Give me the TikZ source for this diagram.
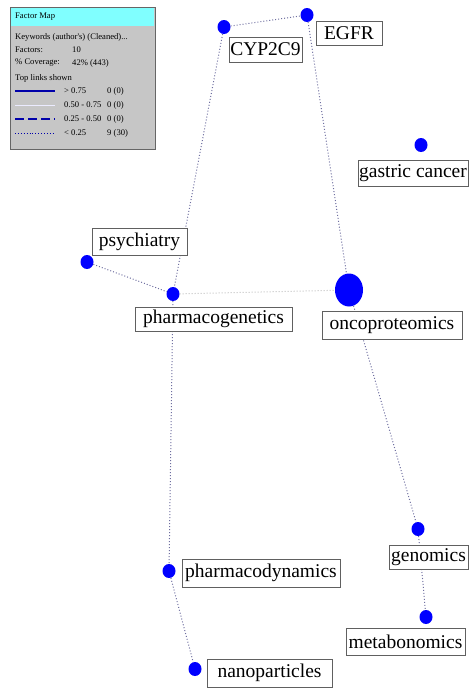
\documentclass[tikz,border=0pt]{standalone}
\usepackage{fontspec}
\setmainfont{Liberation Serif}
\newfontfamily\lblfont{Liberation Serif}
\usetikzlibrary{shapes.geometric}
\definecolor{dotblue}{RGB}{0,0,255}
\definecolor{linkcol}{RGB}{110,110,160}
\definecolor{legblue}{RGB}{0,0,170}
\definecolor{legcyan}{RGB}{128,255,255}
\begin{document}
\begin{tikzpicture}[x=1pt,y=-1pt,
  dot/.style={draw=none,fill=dotblue,ellipse,minimum width=13pt,minimum height=14pt,inner sep=0pt},
  lbl/.style={draw=gray!75!black,line width=0.9pt,fill=white,inner sep=0pt,font=\lblfont\fontsize{19.5}{19.5}\selectfont},
  link/.style={draw=linkcol,line width=1pt,dotted},
  leg/.style={anchor=west,inner sep=0pt,font=\lblfont\fontsize{8.6}{8.6}\selectfont}]
\useasboundingbox (0,0) rectangle (472,688);
\node[dot] (dcyp) at (224,27) {};
\node[dot] (degfr) at (307,15) {};
\node[dot] (dgas) at (421,145) {};
\node[dot] (dpsy) at (87,262) {};
\node[dot] (dpg) at (173,294) {};
\node[dot,minimum width=28pt,minimum height=33pt] (donc) at (349,290) {};
\node[dot] (dgen) at (418,529) {};
\node[dot] (dmet) at (426,617) {};
\node[dot] (dpd) at (169,571) {};
\node[dot] (dnano) at (195,669) {};
\draw[link] (dcyp) -- (degfr);
\draw[link] (dcyp) -- (dpg);
\draw[link] (degfr) -- (donc);
\draw[link] (dpsy) -- (dpg);
\draw[link,draw=gray!50] (dpg) -- (donc);
\draw[link] (dpg) -- (dpd);
\draw[link] (dpd) -- (dnano);
\draw[link] (donc) -- (dgen);
\draw[link] (dgen) -- (dmet);
% labels
\node[lbl,minimum width=73pt,minimum height=25pt] (lcyp) at (265.5,49.5) {CYP2C9};
\node[lbl,minimum width=66pt,minimum height=24pt] (legfr) at (349,33) {EGFR};
\node[lbl,minimum width=110pt,minimum height=26pt] (lgas) at (413,173) {gastric cancer};
\node[lbl,minimum width=95pt,minimum height=27pt] (lpsy) at (139.5,241.5) {psychiatry};
\node[lbl,minimum width=157pt,minimum height=24pt] (lpg) at (213.5,319) {pharmacogenetics};
\node[lbl,minimum width=140pt,minimum height=28pt] (lonc) at (392,325) {oncoproteomics};
\node[lbl,minimum width=79pt,minimum height=24pt] (lgen) at (428.5,557) {genomics};
\node[lbl,minimum width=119pt,minimum height=27pt] (lmet) at (405.5,641.5) {metabonomics};
\node[lbl,minimum width=158pt,minimum height=28pt] (lpd) at (261,573) {pharmacodynamics};
\node[lbl,minimum width=125pt,minimum height=28pt] (lnano) at (269.5,673) {nanoparticles};
% legend
\node[draw=gray!80!black,line width=0.8pt,fill=gray!45,minimum width=145pt,minimum height=142pt,inner sep=0pt,anchor=north west] (legbox) at (10,7) {};
\node[fill=legcyan,minimum width=143pt,minimum height=18pt,inner sep=0pt,anchor=north west] (leghead) at (11,8) {};
\node[leg] (lt1) at (15,17) {Factor Map};
\node[leg] (lt2) at (15,37) {Keywords (author's) (Cleaned)...};
\node[leg] (lt3) at (15,50) {Factors:};
\node[leg] (lv3) at (72,50) {10};
\node[leg] (lt4) at (15,63) {\% Coverage:};
\node[leg] (lv4) at (72,63) {42\% (443)};
\node[leg] (lt5) at (15,78) {Top links shown};
\coordinate (a1) at (15,91); \coordinate (b1) at (55,91);
\coordinate (a2) at (15,105); \coordinate (b2) at (55,105);
\coordinate (a3) at (15,119); \coordinate (b3) at (55,119);
\coordinate (a4) at (15,133); \coordinate (b4) at (55,133);
\draw[legblue,line width=2pt] (a1) -- (b1);
\draw[blue!8!white,line width=1pt] (a2) -- (b2);
\draw[legblue,line width=1.2pt,dash pattern=on 9pt off 4pt] (a3) -- (b3);
\draw[legblue,line width=0.9pt,dotted] (a4) -- (b4);
\node[leg] (r1) at (64,91) {> 0.75};
\node[leg] (r2) at (64,105) {0.50 - 0.75};
\node[leg] (r3) at (64,119) {0.25 - 0.50};
\node[leg] (r4) at (64,133) {< 0.25};
\node[leg] (c1) at (107,91) {0 (0)};
\node[leg] (c2) at (107,105) {0 (0)};
\node[leg] (c3) at (107,119) {0 (0)};
\node[leg] (c4) at (107,133) {9 (30)};
\end{tikzpicture}
\end{document}
